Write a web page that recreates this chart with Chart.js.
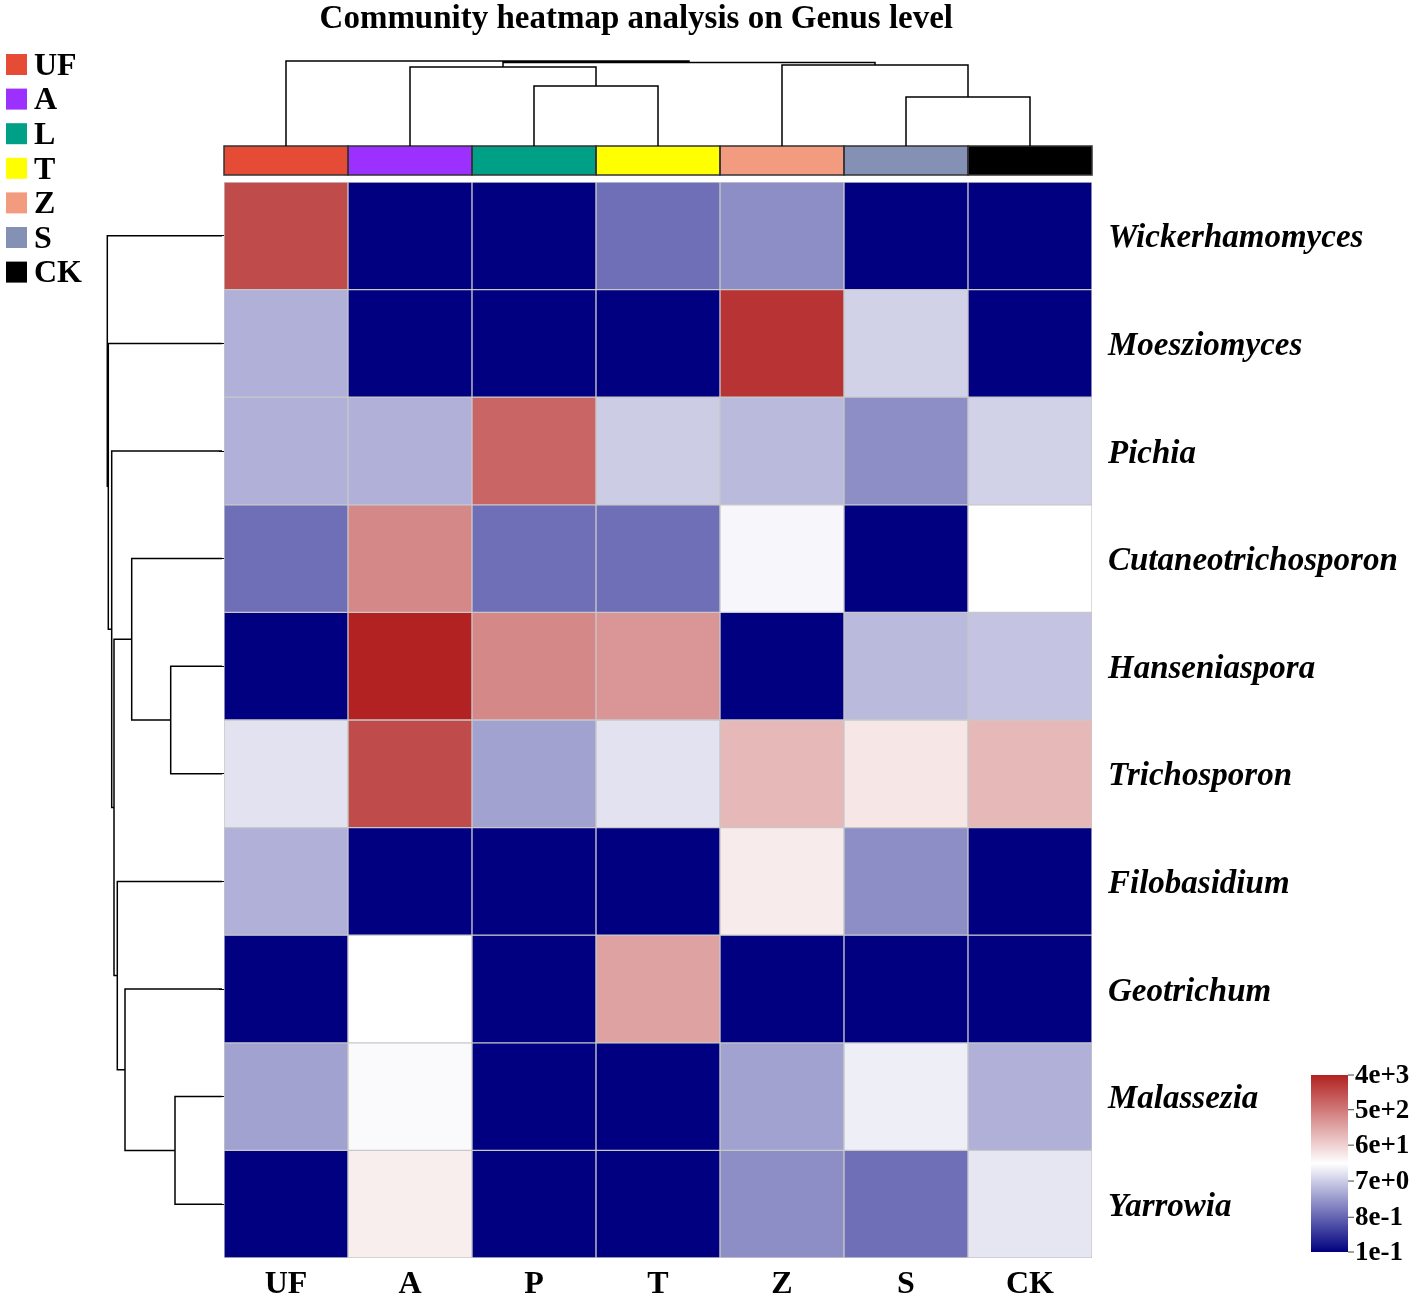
<!DOCTYPE html>
<html>
<head>
<meta charset="utf-8">
<script src="https://cdn.jsdelivr.net/npm/chart.js@4.4.1/dist/chart.umd.min.js"></script>
<style>
  html, body { margin: 0; padding: 0; background: #fff; }
  canvas { display: block; }
</style>
</head>
<body>
<canvas id="heatmap" width="1418" height="1301"></canvas>
<script>
const samples = ['UF', 'A', 'P', 'T', 'Z', 'S', 'CK'];
const genera = ['Wickerhamomyces', 'Moesziomyces', 'Pichia', 'Cutaneotrichosporon', 'Hanseniaspora',
  'Trichosporon', 'Filobasidium', 'Geotrichum', 'Malassezia', 'Yarrowia'];

// abundance per genus, in sample order (0 = not detected)
const wickerhamomyces     = [1500, 0, 0, 1.0, 1.9, 0, 0];
const moesziomyces        = [3.9, 0, 0, 0, 2600, 7.7, 0];
const pichia              = [3.9, 3.9, 810, 6.9, 4.8, 1.9, 7.7];
const cutaneotrichosporon = [1.0, 350, 1.0, 1.0, 17, 0, 20];
const hanseniaspora       = [0, 4000, 350, 250, 0, 4.8, 5.9];
const trichosporon        = [11, 1500, 2.9, 11, 110, 36, 110];
const filobasidium        = [3.9, 0, 0, 0, 32, 1.9, 0];
const geotrichum          = [0, 20, 0, 185, 0, 0, 0];
const malassezia          = [2.9, 18, 0, 0, 2.9, 14, 3.9];
const yarrowia            = [0, 30, 0, 0, 1.9, 1.0, 12];
const abundance = [wickerhamomyces, moesziomyces, pichia, cutaneotrichosporon, hanseniaspora,
  trichosporon, filobasidium, geotrichum, malassezia, yarrowia];

const groupNames = ['UF', 'A', 'L', 'T', 'Z', 'S', 'CK'];
const groupColors = ['#E64B35', '#9B30FF', '#00A087', '#FFFF00', '#F39B7F', '#8491B4', '#000000'];

const colorbarLabels = ['4e+3', '5e+2', '6e+1', '7e+0', '8e-1', '1e-1'];

// hierarchical clustering: [childA, childB, distance], new node ids follow the leaves
const sampleTree = [[5, 6, 0.49], [2, 3, 0.60], [1, 8, 0.79], [4, 7, 0.81], [9, 10, 0.835], [0, 11, 0.85]];
const genusTree = [[8, 9, 0.47], [4, 5, 0.513], [3, 11, 0.903], [7, 10, 0.97], [6, 13, 1.047],
  [12, 14, 1.08], [2, 15, 1.103], [1, 16, 1.137], [0, 17, 1.147]];

const FONT = 'Liberation Serif, Times New Roman, serif';
const logMin = Math.log10(Number(colorbarLabels[colorbarLabels.length - 1]));
const logMax = Math.log10(Number(colorbarLabels[0]));

const navy = [0, 0, 128], white = [255, 255, 255], red = [178, 34, 34];
function mix(a, b, f) {
  return 'rgb(' + a.map((v, i) => Math.round(v + (b[i] - v) * f)).join(',') + ')';
}
function colorAt(t) {
  t = Math.max(0, Math.min(1, t));
  return t < 0.5 ? mix(navy, white, t * 2) : mix(white, red, (t - 0.5) * 2);
}
function colorFor(v) {
  if (v <= 0) return colorAt(0);
  return colorAt((Math.log10(v) - logMin) / (logMax - logMin));
}

function layoutTree(leafPos, merges) {
  const pos = leafPos.slice();
  const dist = leafPos.map(() => 0);
  merges.forEach(([a, b, d]) => { pos.push((pos[a] + pos[b]) / 2); dist.push(d); });
  return { pos, dist };
}

const decorations = {
  id: 'decorations',
  afterDraw(chart) {
    const { ctx, chartArea: area, scales } = chart;
    const xs = samples.map((s, i) => scales.x.getPixelForValue(i));
    const ys = genera.map((g, i) => scales.yLabels.getPixelForValue(i));
    const colW = xs[1] - xs[0];
    ctx.save();

    // title
    ctx.fillStyle = '#000';
    ctx.font = 'bold 33px ' + FONT;
    ctx.textAlign = 'center';
    ctx.textBaseline = 'middle';
    ctx.fillText('Community heatmap analysis on Genus level', area.left + area.width * 0.475, 19);

    // group legend
    ctx.font = 'bold 32px ' + FONT;
    ctx.textAlign = 'left';
    groupNames.forEach((name, i) => {
      const cy = 64.5 + i * 34.6;
      ctx.fillStyle = groupColors[i];
      ctx.fillRect(6, cy - 10.5, 21, 21);
      ctx.fillStyle = '#000';
      ctx.fillText(name, 34, cy + 2);
    });

    // sample colour strip
    const stripTop = area.top - 36, stripH = 29;
    groupColors.forEach((c, i) => {
      ctx.fillStyle = c;
      ctx.fillRect(xs[i] - colW / 2, stripTop, colW, stripH);
    });
    ctx.strokeStyle = '#333';
    ctx.lineWidth = 1.5;
    groupColors.forEach((c, i) => ctx.strokeRect(xs[i] - colW / 2, stripTop, colW, stripH));

    // dendrograms
    ctx.strokeStyle = '#000';
    ctx.lineWidth = 1.5;
    const unit = 100;
    const top = layoutTree(xs, sampleTree);
    const topY = k => stripTop - top.dist[k] * unit;
    ctx.beginPath();
    sampleTree.forEach(([a, b], k) => {
      const y = topY(samples.length + k);
      ctx.moveTo(top.pos[a], topY(a)); ctx.lineTo(top.pos[a], y);
      ctx.lineTo(top.pos[b], y); ctx.lineTo(top.pos[b], topY(b));
    });
    ctx.stroke();

    const leftBase = area.left - 2;
    const side = layoutTree(ys, genusTree);
    const sideX = k => leftBase - side.dist[k] * unit;
    ctx.beginPath();
    genusTree.forEach(([a, b], k) => {
      const x = sideX(genera.length + k);
      ctx.moveTo(sideX(a), side.pos[a]); ctx.lineTo(x, side.pos[a]);
      ctx.lineTo(x, side.pos[b]); ctx.lineTo(sideX(b), side.pos[b]);
    });
    ctx.stroke();

    // colour key
    const barL = area.right + 219, barW = 37, barTop = area.bottom - 183, barBot = area.bottom - 6;
    const grad = ctx.createLinearGradient(0, barBot, 0, barTop);
    for (let i = 0; i <= 20; i++) grad.addColorStop(i / 20, colorAt(i / 20));
    ctx.fillStyle = grad;
    ctx.fillRect(barL, barTop, barW, barBot - barTop);
    ctx.font = 'bold 27px ' + FONT;
    ctx.textBaseline = 'middle';
    ctx.lineWidth = 1;
    ctx.strokeStyle = '#444';
    colorbarLabels.forEach(lbl => {
      const t = (Math.log10(Number(lbl)) - logMin) / (logMax - logMin);
      const y = barBot - t * (barBot - barTop);
      ctx.beginPath();
      ctx.moveTo(barL + barW, y); ctx.lineTo(barL + barW + 6, y);
      ctx.stroke();
      ctx.fillStyle = '#000';
      ctx.fillText(lbl, barL + barW + 7, y + 1);
    });
    ctx.restore();
  }
};

const datasets = abundance.map((row, r) => ({
  label: genera[r],
  data: row.map(() => [r, r + 1]),
  backgroundColor: row.map(colorFor),
  borderColor: '#c8c8c8',
  borderWidth: 1,
  borderSkipped: false,
  grouped: false,
  categoryPercentage: 1,
  barPercentage: 1,
  yAxisID: 'y'
}));

new Chart(document.getElementById('heatmap'), {
  type: 'bar',
  data: { labels: samples, datasets },
  options: {
    responsive: false,
    animation: false,
    events: [],
    layout: { padding: { left: 218, top: 182, right: 0, bottom: 0 } },
    plugins: { legend: { display: false }, tooltip: { enabled: false }, title: { display: false } },
    scales: {
      x: {
        type: 'category',
        position: 'bottom',
        grid: { display: false, drawTicks: false },
        border: { display: false },
        ticks: { color: '#000', padding: 8, font: { family: FONT, size: 32, weight: 'bold' } },
        afterFit: s => { s.height = 43; }
      },
      y: { type: 'linear', min: 0, max: 10, reverse: true, display: false },
      yLabels: {
        type: 'category',
        labels: genera,
        position: 'right',
        offset: true,
        grid: { display: false, drawTicks: false },
        border: { display: false },
        ticks: { color: '#000', padding: 16, labelOffset: 3, font: { family: FONT, size: 33, weight: 'bold', style: 'italic' } },
        afterFit: s => { s.width = 326; }
      },
      yTicks: {
        type: 'category',
        labels: genera,
        position: 'left',
        offset: true,
        grid: { drawOnChartArea: false, tickLength: 5, color: '#000' },
        border: { display: false },
        ticks: { display: false },
        afterFit: s => { s.width = 6; }
      }
    }
  },
  plugins: [decorations]
});
</script>
</body>
</html>
